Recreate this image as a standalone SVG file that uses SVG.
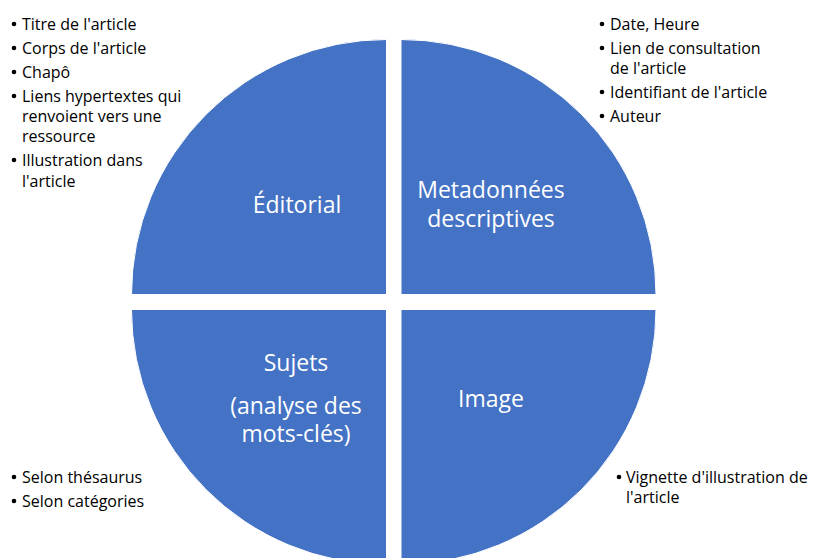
<svg xmlns="http://www.w3.org/2000/svg" width="816" height="558" viewBox="0 0 816 558">
<style>
.q{fill:#4472C4;stroke:#ffffff;stroke-width:1}
.lbl{font-family:"Open Sans","Liberation Sans",Arial,sans-serif;font-size:23px;fill:#ffffff;text-anchor:middle}
.lst{font-family:"Open Sans","Liberation Sans",Arial,sans-serif;font-size:16px;fill:#000000}
.b{fill:#000000}
</style>
<rect width="816" height="558" fill="#ffffff"/>
<g id="editorial">
<path class="q" d="M386.5,294.5 L131.5,294.5 A255,255 0 0 1 386.5,39.5 Z"/>
<text class="lbl" x="297" y="213">Éditorial</text>
</g>
<g id="metadonnees">
<path class="q" d="M401,294.5 L401,39.5 A255,255 0 0 1 656,294.5 Z"/>
<text class="lbl" x="491" y="198">Metadonnées</text>
<text class="lbl" x="491" y="227">descriptives</text>
</g>
<g id="sujets">
<path class="q" d="M386.5,309.5 L386.5,564.5 A255,255 0 0 1 131.5,309.5 Z"/>
<text class="lbl" x="296" y="371">Sujets</text>
<text class="lbl" x="296" y="414">(analyse des</text>
<text class="lbl" x="296" y="442">mots-clés)</text>
</g>
<g id="image">
<path class="q" d="M401,309.5 L656,309.5 A255,255 0 0 1 401,564.5 Z"/>
<text class="lbl" x="491" y="407">Image</text>
</g>
<g id="liste-editorial">
<circle class="b" cx="14" cy="24" r="2.3"/>
<circle class="b" cx="14" cy="48" r="2.3"/>
<circle class="b" cx="14" cy="72" r="2.3"/>
<circle class="b" cx="14" cy="96" r="2.3"/>
<circle class="b" cx="14" cy="160" r="2.3"/>
<text class="lst" x="22" y="30">Titre de l'article</text>
<text class="lst" x="22" y="54">Corps de l'article</text>
<text class="lst" x="22" y="78">Chapô</text>
<text class="lst" x="22" y="102">Liens hypertextes qui</text>
<text class="lst" x="22" y="122">renvoient vers une</text>
<text class="lst" x="22" y="142">ressource</text>
<text class="lst" x="22" y="166">Illustration dans</text>
<text class="lst" x="22" y="187">l'article</text>
</g>
<g id="liste-metadonnees">
<circle class="b" cx="602" cy="24" r="2.3"/>
<circle class="b" cx="602" cy="48" r="2.3"/>
<circle class="b" cx="602" cy="92" r="2.3"/>
<circle class="b" cx="602" cy="116" r="2.3"/>
<text class="lst" x="610" y="30">Date, Heure</text>
<text class="lst" x="610" y="54">Lien de consultation</text>
<text class="lst" x="610" y="74">de l'article</text>
<text class="lst" x="610" y="98">Identifiant de l'article</text>
<text class="lst" x="610" y="122">Auteur</text>
</g>
<g id="liste-sujets">
<circle class="b" cx="14" cy="477" r="2.3"/>
<circle class="b" cx="14" cy="501" r="2.3"/>
<text class="lst" x="22" y="483">Selon thésaurus</text>
<text class="lst" x="22" y="507">Selon catégories</text>
</g>
<g id="liste-image">
<circle class="b" cx="619" cy="477" r="2.3"/>
<text class="lst" x="626" y="483">Vignette d'illustration de</text>
<text class="lst" x="626" y="503">l'article</text>
</g>
</svg>
